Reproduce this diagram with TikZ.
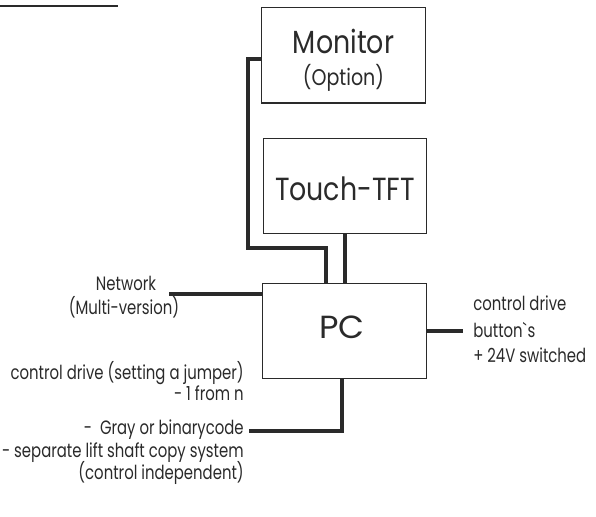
\documentclass[tikz,border=0pt]{standalone}
\usepackage{fontspec}
\setmainfont{Poppins}[FakeStretch=0.77]
\newfontfamily\bigfont{Poppins}[FakeStretch=0.84]
\usetikzlibrary{calc}
\definecolor{ink}{HTML}{2A2A2A}
\tikzset{
  box/.style={draw=ink, line width=0.75pt, minimum width=122.5pt, minimum height=71.25pt, inner sep=0pt, text=ink},
  conn/.style={draw=ink, line width=2.4pt},
  small/.style={inner sep=0pt, text=ink, font=\fontsize{14.5pt}{17pt}\selectfont, text height=0.72em, text depth=0.22em},
  big/.style={inner sep=0pt, text=ink, font=\bigfont\fontsize{24pt}{28pt}\selectfont},
}
\begin{document}
\begin{tikzpicture}[x=0.75pt, y=-0.75pt]
\useasboundingbox (0,0) rectangle (596,517);
% cut-off heading underline
\coordinate (hl) at (0,6.5);
\coordinate (hr) at (118,6.5);
\draw[ink, line width=1.5pt] (hl) -- (hr);
% boxes
\node[box] (mon) at (343.5,55.5) {};
\node[big, anchor=base] (montxt) at (343.5,54) {Monitor};
\node[inner sep=0pt, text=ink, anchor=base, font=\bigfont\fontsize{17pt}{20pt}\selectfont] (opt) at (343.5,85) {(Option)};
\node[box] (tft) at (345,185.5) {};
\node[big, anchor=base] (tfttxt) at (345,200) {Touch-TFT};
\node[box] (pc) at (344.5,330.5) {};
\node[big, anchor=base] (pctxt) at (342,338) {\scalebox{1.25}[1]{PC}};
% left texts
\node[small, anchor=base] (net1) at (126,290) {Network};
\node[small, anchor=base] (net2) at (124,314) {(Multi-version)};
\coordinate (netend) at (169,294);
\node[small, anchor=east] (l1) at (244,376) {control drive (setting a jumper)};
\node[small, anchor=east] (l2) at (244,397) {- 1 from n};
\node[small, anchor=east] (l3) at (244,431) {-\ \ Gray or binarycode};
\node[small, anchor=east] (l4) at (244,454) {- separate lift shaft copy system};
\node[small, anchor=east] (l5) at (244,476) {(control independent)};
\coordinate (botend) at (249,431);
% right text
\node[small, anchor=base west] (r1) at (473,310) {control drive};
\node[small, anchor=base west] (r2) at (473,337) {button\textasciigrave s};
\node[small, anchor=base west] (r3) at (473,362) {+ 24V switched};
\coordinate (rend) at (463,331);
% connectors
\draw[conn] ([yshift=-2.6pt]mon.west) -| (248,248) -| ([xshift=-13.9pt]pc.north);
\draw[conn] (tft.south) -- (tft.south |- pc.north);
\draw[conn] (netend) -- (netend -| pc.west);
\draw[conn] (pc.east |- rend) -- (rend);
\draw[conn] ([xshift=-1.9pt]pc.south) |- (botend);
\end{tikzpicture}
\end{document}
